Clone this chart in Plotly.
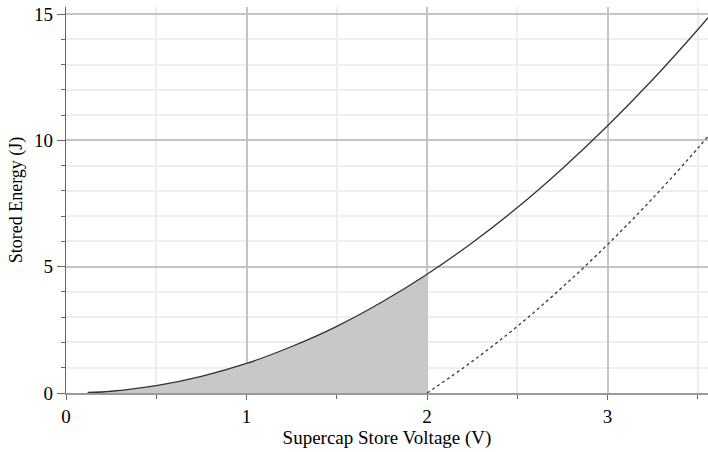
import plotly.graph_objects as go

# Stored energy curve (solid)
volts = [0.12, 0.25, 0.5, 0.75, 1.0, 1.25, 1.5, 1.75, 2.0, 2.25, 2.5, 2.75, 3.0, 3.25, 3.5, 3.556]
energy = [0.02, 0.07, 0.29, 0.66, 1.17, 1.84, 2.64, 3.60, 4.70, 5.95, 7.34, 8.89, 10.58, 12.41, 14.39, 14.86]

# Shaded region (0.12 V .. 2 V)
shade_volts = [0.12, 0.25, 0.5, 0.75, 1.0, 1.25, 1.5, 1.75, 2.0]
shade_energy = [0.02, 0.07, 0.29, 0.66, 1.17, 1.84, 2.64, 3.60, 4.70]

# Usable energy above 2 V (dotted)
dot_volts = [2.0, 2.25, 2.5, 2.75, 3.0, 3.25, 3.5, 3.556]
dot_energy = [0.0, 1.25, 2.64, 4.19, 5.88, 7.71, 9.69, 10.16]

x_ticks = [0, 1, 2, 3]
y_ticks = [0, 5, 10, 15]

FONT = "Liberation Serif, Times New Roman, serif"

fig = go.Figure()
fig.add_trace(go.Scatter(x=shade_volts, y=shade_energy, mode="lines", fill="tozeroy",
                         fillcolor="#c8c8c8", line=dict(width=0, shape="spline"),
                         hoverinfo="skip", showlegend=False))
fig.add_trace(go.Scatter(x=volts, y=energy, mode="lines",
                         line=dict(color="#333333", width=1.3, shape="spline"),
                         showlegend=False))
fig.add_trace(go.Scatter(x=dot_volts, y=dot_energy, mode="lines",
                         line=dict(color="#444444", width=1.4, dash="dot", shape="spline"),
                         showlegend=False))

fig.update_layout(
    width=708, height=452,
    margin=dict(l=66, r=0, t=7, b=59),
    paper_bgcolor="white", plot_bgcolor="white",
    font=dict(family=FONT, size=19, color="black"),
    showlegend=False,
)
fig.update_xaxes(
    range=[0, 3.556], tickvals=x_ticks, ticktext=[str(v) for v in x_ticks],
    tickfont=dict(family=FONT, size=19),
    showgrid=True, gridcolor="#c4c4c4", gridwidth=1.8,
    minor=dict(dtick=0.5, tick0=0, showgrid=True, gridcolor="#eeeeee", gridwidth=1.5,
               ticks="outside", ticklen=4, tickcolor="#666666"),
    ticks="outside", ticklen=5, tickcolor="#666666",
    showline=True, linecolor="#999999", linewidth=2,
    zeroline=False,
    title=dict(text="Supercap Store Voltage (V)", font=dict(family=FONT, size=19), standoff=2),
)
fig.update_yaxes(
    range=[0, 15.28], tickvals=y_ticks, ticktext=[str(v) for v in y_ticks],
    tickfont=dict(family=FONT, size=19),
    showgrid=True, gridcolor="#c4c4c4", gridwidth=1.8,
    minor=dict(dtick=1, tick0=0, showgrid=True, gridcolor="#eeeeee", gridwidth=1.5,
               ticks="outside", ticklen=4, tickcolor="#666666"),
    ticks="outside", ticklen=8, tickcolor="#666666",
    showline=True, linecolor="#666666", linewidth=1.2,
    zeroline=False,
    title=dict(text="Stored Energy (J)", font=dict(family=FONT, size=18), standoff=6),
)

fig.write_html("out.html")
